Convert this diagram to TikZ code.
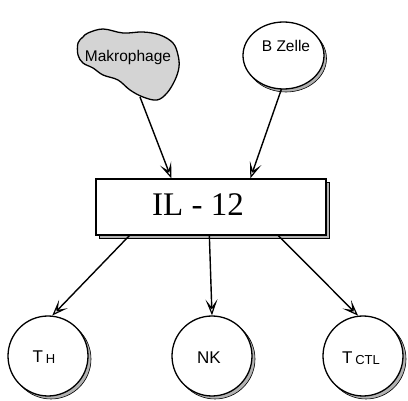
\documentclass[tikz,border=0pt]{standalone}
\usepackage{fontspec}
\setmainfont{Liberation Serif}
\setsansfont{Liberation Sans}
\usetikzlibrary{arrows.meta,calc}

\tikzset{
  lab/.style={font=\sffamily\fontsize{15.5}{15.5}\selectfont, inner sep=0pt},
  cellshadow/.style={draw=black, line width=0.6pt, fill=black!30},
  cell/.style={draw=black, line width=1.3pt, fill=white},
  link/.style={line width=1.4pt, -{Stealth[open, length=16pt, width=12pt, inset=8pt, line width=1.2pt]}},
}
\newcommand{\subtext}[1]{\raisebox{-1pt}{\fontsize{13}{13}\selectfont #1}}

\begin{document}
\begin{tikzpicture}[x=1pt, y=-1pt]
  \useasboundingbox (0,0) rectangle (408,401);

  % macrophage: irregular stippled blob
  \draw[line width=1.3pt, fill=black!17]
    plot[smooth cycle, tension=0.6] coordinates {
      (88,33) (103,29) (123,33) (143,32) (160,35) (173,43) (178,55)
      (179,67) (175,80) (167,93) (157,100) (143,97) (130,90) (118,80)
      (103,75) (93,68) (83,63) (78,55) (78,43) (83,37)};
  \node[lab] (mak) at (128,57) {Makrophage};
  \coordinate (makbot) at (140,97);

  % B cell (slightly oval)
  \draw[cellshadow] (286,58.5) ellipse [x radius=40.5, y radius=33.5];
  \draw[cell] (283.5,55.5) ellipse [x radius=40.5, y radius=33.5];
  \node[lab] (bz) at (286,46) {B Zelle};
  \coordinate (bzbot) at (281.5,89);

  % cytokine box with offset shadow
  \fill[black!30] (99,182) rectangle (329,238);
  \draw[line width=0.6pt] (99,182) rectangle (329,238);
  \node[draw=black, line width=1.3pt, fill=white, minimum width=230pt,
        minimum height=56pt, inner sep=0pt] (il) at (211,207) {};
  \node[font=\rmfamily\fontsize{33}{33}\selectfont, inner sep=0pt]
    (ilt) at (198,205) {IL - 12};

  % target cells
  \foreach \n/\cx in {th/48, nk/212, tc/363} {
    \draw[cellshadow] (\cx+3,359) circle [radius=40];
    \node[cell, circle, minimum size=80pt, inner sep=0pt] (\n) at (\cx,356) {};
  }
  \node[lab, font=\sffamily\fontsize{17}{17}\selectfont] (thl) at (44,357) {T\,\subtext{H}};
  \node[lab, font=\sffamily\fontsize{17}{17}\selectfont] (nkl) at (209,358) {NK};
  \node[lab, font=\sffamily\fontsize{17}{17}\selectfont] (tcl) at (361,358) {T\,\subtext{CTL}};

  % connectors
  \draw[link] (makbot) -- ([xshift=76pt]il.north west);
  \draw[link] (bzbot) -- ([xshift=155pt]il.north west);
  \draw[link] ([xshift=34pt]il.south west) -- (th.84);
  \draw[link] ([xshift=114pt]il.south west) -- (nk.north);
  \draw[link] ([xshift=183pt]il.south west) -- (tc.97);
\end{tikzpicture}
\end{document}
